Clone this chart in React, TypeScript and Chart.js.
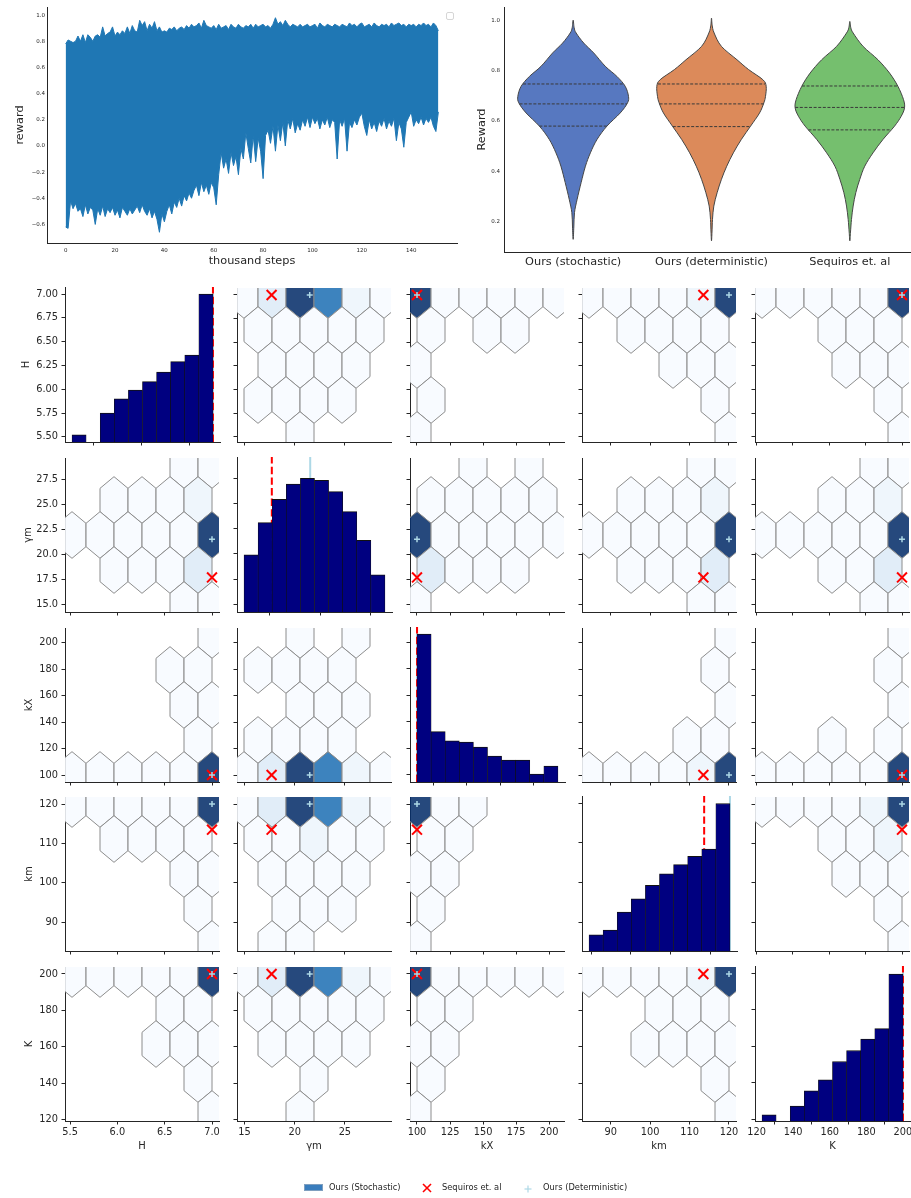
import React, { useEffect, useRef } from "react";
import { Chart, registerables } from "chart.js";

Chart.register(...registerables);

// ---------------- Training curve (reward envelope, every 1k steps) ----------------
const REWARD_STEPS = [0, 1, 2, 3, 4, 5, 6, 7, 8, 9, 10, 11, 12, 13, 14, 15, 16, 17, 18, 19, 20, 21, 22, 23, 24, 25, 26, 27, 28, 29, 30, 31, 32, 33, 34, 35, 36, 37, 38, 39, 40, 41, 42, 43, 44, 45, 46, 47, 48, 49, 50, 51, 52, 53, 54, 55, 56, 57, 58, 59, 60, 61, 62, 63, 64, 65, 66, 67, 68, 69, 70, 71, 72, 73, 74, 75, 76, 77, 78, 79, 80, 81, 82, 83, 84, 85, 86, 87, 88, 89, 90, 91, 92, 93, 94, 95, 96, 97, 98, 99, 100, 101, 102, 103, 104, 105, 106, 107, 108, 109, 110, 111, 112, 113, 114, 115, 116, 117, 118, 119, 120, 121, 122, 123, 124, 125, 126, 127, 128, 129, 130, 131, 132, 133, 134, 135, 136, 137, 138, 139, 140, 141, 142, 143, 144, 145, 146, 147, 148, 149, 150, 151];
const REWARD_UPPER = [0.78, 0.81, 0.80, 0.79, 0.80, 0.84, 0.80, 0.85, 0.79, 0.85, 0.83, 0.80, 0.84, 0.85, 0.83, 0.91, 0.84, 0.86, 0.87, 0.91, 0.84, 0.87, 0.85, 0.88, 0.86, 0.91, 0.86, 0.92, 0.88, 0.87, 0.96, 0.92, 0.95, 0.88, 0.93, 0.90, 0.95, 0.88, 0.91, 0.87, 0.88, 0.87, 0.90, 0.89, 0.91, 0.88, 0.90, 0.91, 0.89, 0.92, 0.90, 0.93, 0.91, 0.92, 0.94, 0.90, 0.96, 0.92, 0.91, 0.90, 0.92, 0.89, 0.93, 0.90, 0.91, 0.92, 0.89, 0.93, 0.91, 0.90, 0.93, 0.91, 0.90, 0.92, 0.91, 0.93, 0.90, 0.93, 0.91, 0.92, 0.93, 0.91, 0.92, 0.90, 0.93, 0.98, 0.93, 0.95, 0.92, 0.96, 0.93, 0.91, 0.93, 0.92, 0.91, 0.93, 0.91, 0.92, 0.93, 0.91, 0.92, 0.93, 0.90, 0.94, 0.92, 0.91, 0.93, 0.92, 0.91, 0.93, 0.92, 0.91, 0.93, 0.92, 0.91, 0.94, 0.92, 0.93, 0.91, 0.93, 0.94, 0.91, 0.92, 0.93, 0.91, 0.94, 0.92, 0.91, 0.93, 0.92, 0.93, 0.91, 0.94, 0.92, 0.93, 0.94, 0.92, 0.93, 0.91, 0.93, 0.92, 0.93, 0.91, 0.93, 0.92, 0.94, 0.92, 0.93, 0.91, 0.94, 0.92, 0.88];
const REWARD_LOWER = [-0.62, -0.63, -0.42, -0.48, -0.44, -0.50, -0.48, -0.54, -0.45, -0.52, -0.47, -0.49, -0.60, -0.48, -0.53, -0.46, -0.54, -0.48, -0.51, -0.47, -0.53, -0.49, -0.55, -0.47, -0.50, -0.53, -0.48, -0.52, -0.49, -0.46, -0.51, -0.45, -0.50, -0.53, -0.48, -0.55, -0.50, -0.56, -0.66, -0.52, -0.58, -0.50, -0.45, -0.52, -0.43, -0.47, -0.40, -0.46, -0.38, -0.42, -0.36, -0.40, -0.34, -0.30, -0.38, -0.28, -0.35, -0.30, -0.37, -0.28, -0.32, -0.45, -0.22, -0.05, -0.17, -0.10, -0.21, -0.05, -0.15, -0.08, -0.22, -0.02, -0.10, 0.10, -0.02, -0.13, 0.08, -0.12, 0.06, -0.04, -0.25, 0.08, 0.12, 0.02, 0.15, -0.04, 0.16, 0.04, 0.18, 0.00, 0.20, 0.13, 0.21, 0.10, 0.17, 0.12, 0.20, 0.15, 0.22, 0.14, 0.22, 0.17, 0.21, 0.13, 0.20, 0.16, 0.22, 0.14, 0.20, 0.18, -0.10, 0.20, 0.15, 0.21, -0.04, 0.18, 0.14, 0.20, 0.16, 0.22, 0.25, 0.15, 0.08, 0.20, 0.13, 0.18, 0.11, 0.19, 0.15, 0.21, 0.13, 0.19, 0.15, 0.21, 0.04, 0.18, 0.13, -0.01, 0.18, 0.22, 0.26, 0.15, 0.20, 0.17, 0.22, 0.16, 0.21, 0.18, 0.22, 0.15, 0.11, 0.26];
const REWARD_X_TICKS = [0, 20, 40, 60, 80, 100, 120, 140];
const REWARD_Y_TICKS = [-0.6, -0.4, -0.2, 0.0, 0.2, 0.4, 0.6, 0.8, 1.0];

// ---------------- Reward violins ----------------
const VIOLIN_LABELS = ["Ours (stochastic)", "Ours (deterministic)", "Sequiros et. al"];
const STOCH_Y = [1.0, 0.97, 0.949, 0.909, 0.87, 0.817, 0.777, 0.738, 0.698, 0.672, 0.632, 0.58, 0.527, 0.474, 0.421, 0.356, 0.29, 0.237, 0.18, 0.131];
const STOCH_DENSITY = [0, 3, 9, 32, 62, 97, 132, 157, 167, 164, 142, 102, 72, 52, 37, 24, 12, 4, 2, 0];
const STOCH_QUARTILES = [0.58, 0.668, 0.747];
const DETER_Y = [1.008, 0.98, 0.949, 0.896, 0.843, 0.804, 0.764, 0.738, 0.698, 0.672, 0.632, 0.58, 0.527, 0.474, 0.421, 0.369, 0.316, 0.263, 0.21, 0.16, 0.125];
const DETER_DENSITY = [0, 2, 8, 30, 77, 112, 155, 165, 163, 158, 145, 118, 90, 66, 46, 30, 17, 7, 3, 1.5, 0];
const DETER_QUARTILES = [0.578, 0.668, 0.747];
const SEQ_Y = [0.995, 0.97, 0.949, 0.896, 0.843, 0.79, 0.738, 0.685, 0.652, 0.619, 0.58, 0.527, 0.474, 0.421, 0.369, 0.316, 0.263, 0.21, 0.16, 0.125];
const SEQ_DENSITY = [0, 3, 10, 40, 85, 120, 145, 162, 165, 155, 135, 100, 70, 45, 30, 18, 10, 5, 2, 0];
const SEQ_QUARTILES = [0.565, 0.654, 0.739];
const VIOLIN_Y_TICKS = [0.2, 0.4, 0.6, 0.8, 1.0];

// ---------------- Pair grid ----------------
const VAR_LABELS = ["H", "γm", "kX", "km", "K"];
const VAR_MIN = [5.52, 14.95, 100, 84.5, 123];
const VAR_MAX = [7.0, 28.9, 206, 120, 200];
const SEQUIROS = [7.0, 17.7, 100, 113.5, 200];
const DETERMINISTIC = [7.0, 21.5, 100, 120, 200];

const H_X_TICKS = [5.5, 6.0, 6.5, 7.0];
const YM_X_TICKS = [15, 20, 25];
const KX_X_TICKS = [100, 125, 150, 175, 200];
const KM_X_TICKS = [90, 100, 110, 120];
const K_X_TICKS = [120, 140, 160, 180, 200];
const H_Y_TICKS = [5.5, 5.75, 6.0, 6.25, 6.5, 6.75, 7.0];
const YM_Y_TICKS = [15, 17.5, 20, 22.5, 25, 27.5];
const KX_Y_TICKS = [100, 120, 140, 160, 180, 200];
const KM_Y_TICKS = [90, 100, 110, 120];
const K_Y_TICKS = [120, 140, 160, 180, 200];

// histogram bar heights (10 equal bins between VAR_MIN and VAR_MAX)
const HIST_H = [7.1, 0, 29, 43.4, 52, 60.5, 70.1, 80.6, 87.3, 148.4];
const HIST_YM = [57.3, 89.7, 113, 128.3, 134, 132, 120.7, 100.7, 72, 37.3];
const HIST_KX = [148.3, 50.6, 41.3, 40, 35, 26, 22, 22, 8, 16];
const HIST_KM = [16.3, 21, 39, 52.3, 66, 77.3, 86.7, 95, 102.3, 148];
const HIST_K = [6.3, 0, 15, 30.3, 41.3, 59.7, 70.7, 82.3, 92.7, 147.3];
const HIST_AXIS_MAX = 155.5;

// hexbin counts, rows from top to bottom (6 / 5 / 6 / 5 / 6 cells), 0 = empty
const HEX_YM_H = [[1, 14, 100, 75, 6, 1], [1, 1, 1, 1, 1], [0, 1, 1, 1, 1, 0], [1, 1, 1, 1, 0], [0, 0, 1, 0, 0, 0]];
const HEX_KX_H = [[100, 1, 1, 1, 1, 1], [1, 0, 1, 1, 0], [1, 0, 0, 0, 0, 0], [1, 0, 0, 0, 0], [1, 0, 0, 0, 0, 0]];
const HEX_KM_H = [[1, 1, 1, 1, 6, 100], [0, 1, 1, 1, 1], [0, 0, 0, 1, 1, 1], [0, 0, 0, 0, 1], [0, 0, 0, 0, 0, 1]];
const HEX_K_H = [[1, 1, 1, 1, 1, 100], [0, 0, 1, 1, 1], [0, 0, 0, 1, 1, 1], [0, 0, 0, 0, 1], [0, 0, 0, 0, 0, 1]];
const HEX_H_YM = [[0, 0, 0, 0, 1, 1], [0, 1, 1, 1, 6], [1, 1, 1, 1, 1, 100], [0, 1, 1, 1, 14], [0, 0, 0, 0, 1, 1]];
const HEX_KX_YM = [[0, 0, 1, 0, 1, 0], [1, 1, 1, 1, 1], [100, 1, 1, 1, 1, 1], [14, 1, 1, 1, 0], [1, 0, 0, 0, 0, 0]];
const HEX_KM_YM = [[0, 0, 0, 0, 1, 1], [0, 1, 1, 1, 6], [1, 1, 1, 1, 1, 100], [0, 1, 1, 1, 14], [0, 0, 0, 0, 1, 1]];
const HEX_K_YM = [[0, 0, 0, 0, 1, 1], [0, 0, 1, 1, 6], [1, 1, 1, 1, 1, 100], [0, 0, 1, 1, 14], [0, 0, 0, 0, 1, 1]];
const HEX_H_KX = [[0, 0, 0, 0, 0, 1], [0, 0, 0, 1, 1], [0, 0, 0, 0, 1, 1], [0, 0, 0, 0, 1], [1, 1, 1, 1, 1, 100]];
const HEX_YM_KX = [[0, 0, 1, 0, 1, 0], [1, 1, 1, 1, 0], [0, 0, 1, 1, 1, 0], [1, 1, 1, 1, 0], [1, 14, 100, 75, 6, 1]];
const HEX_KM_KX = [[0, 0, 0, 0, 0, 1], [0, 0, 0, 0, 1], [0, 0, 0, 0, 0, 1], [0, 0, 0, 1, 1], [1, 1, 1, 1, 6, 100]];
const HEX_K_KX = [[0, 0, 0, 0, 0, 1], [0, 0, 0, 0, 1], [0, 0, 0, 0, 0, 1], [0, 0, 1, 0, 1], [1, 1, 1, 1, 1, 100]];
const HEX_H_KM = [[1, 1, 1, 1, 1, 100], [0, 1, 1, 1, 1], [0, 0, 0, 0, 1, 1], [0, 0, 0, 0, 1], [0, 0, 0, 0, 0, 1]];
const HEX_YM_KM = [[1, 14, 100, 75, 6, 1], [1, 1, 6, 1, 1], [0, 1, 1, 1, 1, 0], [0, 1, 1, 1, 0], [0, 1, 1, 0, 0, 0]];
const HEX_KX_KM = [[100, 1, 1, 0, 0, 0], [1, 1, 0, 0, 0], [1, 1, 0, 0, 0, 0], [1, 0, 0, 0, 0], [1, 0, 0, 0, 0, 0]];
const HEX_K_KM = [[1, 1, 1, 1, 6, 100], [0, 0, 1, 1, 6], [0, 0, 0, 1, 1, 1], [0, 0, 0, 0, 1], [0, 0, 0, 0, 0, 1]];
const HEX_H_K = [[1, 1, 1, 1, 1, 100], [0, 0, 0, 1, 1], [0, 0, 0, 1, 1, 1], [0, 0, 0, 0, 1], [0, 0, 0, 0, 0, 1]];
const HEX_YM_K = [[1, 14, 100, 75, 6, 1], [1, 1, 1, 1, 1], [0, 1, 1, 1, 1, 0], [0, 0, 1, 0, 0], [0, 0, 1, 0, 0, 0]];
const HEX_KX_K = [[100, 1, 1, 1, 1, 1], [1, 1, 0, 0, 0], [1, 1, 0, 0, 0, 0], [1, 0, 0, 0, 0], [1, 0, 0, 0, 0, 0]];
const HEX_KM_K = [[1, 1, 1, 1, 6, 100], [0, 0, 1, 1, 1], [0, 0, 1, 1, 1, 1], [0, 0, 0, 0, 1], [0, 0, 0, 0, 0, 1]];

// ---------------- styling / layout ----------------
const FONT = "'DejaVu Sans', sans-serif";
const INK = "#262626";
const REWARD_BLUE = "#1f77b4";
const VIOLIN_FILLS = ["#5778c0", "#dc8a5a", "#75bf6e"];
const VIOLIN_EDGE = "#454545";
const NAVY = "#000080";
const SEQ_RED = "#ff0000";
const DET_BLUE = "#add8e6";
const HEX_EDGE = "#8c8c8c";
const HEX_GRID_X = 5;
const HEX_GRID_Y = 2;
const VIOLIN_HALF = 0.4;

const PANEL_LEFT = [65, 237, 410, 582, 755];
const PANEL_TOP = [287, 457, 627, 796, 966];
const PANEL_W = 155;
const PANEL_H = 155;
const ROW_LABEL_X = [26, 28, 29, 29, 29];

const X_TICKS = [H_X_TICKS, YM_X_TICKS, KX_X_TICKS, KM_X_TICKS, K_X_TICKS];
const Y_TICKS = [H_Y_TICKS, YM_Y_TICKS, KX_Y_TICKS, KM_Y_TICKS, K_Y_TICKS];
const X_DEC = [1, 0, 0, 0, 0];
const Y_DEC = [2, 1, 0, 0, 0];
const HISTS = [HIST_H, HIST_YM, HIST_KX, HIST_KM, HIST_K];
const HEX_GRID: any[][] = [
  [null, HEX_YM_H, HEX_KX_H, HEX_KM_H, HEX_K_H],
  [HEX_H_YM, null, HEX_KX_YM, HEX_KM_YM, HEX_K_YM],
  [HEX_H_KX, HEX_YM_KX, null, HEX_KM_KX, HEX_K_KX],
  [HEX_H_KM, HEX_YM_KM, HEX_KX_KM, null, HEX_K_KM],
  [HEX_H_K, HEX_YM_K, HEX_KX_K, HEX_KM_K, null],
];

const BLUES = [
  [247, 251, 255], [222, 235, 247], [198, 219, 239], [158, 202, 225], [107, 174, 214],
  [66, 146, 198], [33, 113, 181], [8, 81, 156], [8, 48, 107],
];
function blues(t: number) {
  const tt = Math.max(0, Math.min(1, t));
  const p = tt * (BLUES.length - 1);
  const i = Math.min(BLUES.length - 2, Math.floor(p));
  const f = p - i;
  const c = BLUES[i].map((v, k) => Math.round(v + (BLUES[i + 1][k] - v) * f));
  return `rgba(${c[0]},${c[1]},${c[2]},0.88)`;
}

function axisRange(i: number) {
  const pad = (VAR_MAX[i] - VAR_MIN[i]) * 0.05;
  return [VAR_MIN[i] - pad, VAR_MAX[i] + pad];
}

function linAxis(o: any) {
  return {
    type: "linear",
    display: true,
    position: o.horizontal ? "bottom" : "left",
    min: o.min,
    max: o.max,
    offset: false,
    afterBuildTicks: (s: any) => {
      s.ticks = o.ticks.map((v: number) => ({ value: v }));
    },
    afterFit: (s: any) => {
      if (o.horizontal) s.height = o.size;
      else s.width = o.size;
      s.paddingLeft = 0;
      s.paddingRight = 0;
      s.paddingTop = 0;
      s.paddingBottom = 0;
    },
    ticks: {
      display: !!o.labels,
      autoSkip: false,
      maxRotation: 0,
      minRotation: 0,
      padding: o.pad,
      color: INK,
      font: { family: FONT, size: o.fontSize },
      callback: (v: any) => o.fmt(Number(v)),
    },
    grid: {
      display: true,
      drawOnChartArea: false,
      drawTicks: o.tickLen > 0,
      tickLength: o.tickLen,
      color: INK,
      lineWidth: 1,
    },
    border: { display: true, color: INK, width: 1 },
    title: o.title
      ? { display: true, text: o.title, color: INK, font: { family: FONT, size: o.titleSize }, padding: { top: 0, bottom: 0 } }
      : { display: false },
  };
}

function baseOptions(m: any, scales: any) {
  return {
    animation: false,
    responsive: false,
    maintainAspectRatio: false,
    events: [],
    layout: { padding: { left: 0, top: m.t, right: m.r, bottom: 0 } },
    plugins: { legend: { display: false }, tooltip: { enabled: false } },
    scales,
  };
}

const minusFmt = (v: number, d: number) => (v < -1e-9 ? "−" + Math.abs(v).toFixed(d) : Math.abs(v).toFixed(d));

// ---------------- reward curve ----------------
const REWARD_M = { l: 34, t: 7, r: 8, b: 25 };
const REWARD_AREA = { left: 47, top: 7, w: 410, h: 236 };

function rewardConfig() {
  const xPad = (REWARD_STEPS[REWARD_STEPS.length - 1] - REWARD_STEPS[0]) * 0.05;
  const lo = Math.min(...REWARD_LOWER);
  const hi = Math.max(...REWARD_UPPER);
  const yPad = (hi - lo) * 0.05;
  return {
    type: "line",
    data: {
      datasets: [
        {
          data: REWARD_STEPS.map((s, i) => ({ x: s, y: REWARD_UPPER[i] })),
          borderColor: REWARD_BLUE,
          backgroundColor: REWARD_BLUE,
          borderWidth: 1,
          pointRadius: 0,
          fill: "+1",
          tension: 0,
        },
        {
          data: REWARD_STEPS.map((s, i) => ({ x: s, y: REWARD_LOWER[i] })),
          borderColor: REWARD_BLUE,
          backgroundColor: REWARD_BLUE,
          borderWidth: 1,
          pointRadius: 0,
          fill: false,
          tension: 0,
        },
      ],
    },
    options: baseOptions(REWARD_M, {
      x: linAxis({
        horizontal: true, min: REWARD_STEPS[0] - xPad, max: REWARD_STEPS[REWARD_STEPS.length - 1] + xPad,
        ticks: REWARD_X_TICKS, fmt: (v: number) => v.toFixed(0), labels: true, size: REWARD_M.b,
        pad: 4, fontSize: 5.5, tickLen: 0, title: "thousand steps", titleSize: 11.3,
      }),
      y: linAxis({
        horizontal: false, min: lo - yPad, max: hi + yPad, ticks: REWARD_Y_TICKS,
        fmt: (v: number) => minusFmt(v, 1), labels: true, size: REWARD_M.l,
        pad: 2, fontSize: 5.5, tickLen: 0, title: "reward", titleSize: 11.3,
      }),
    }),
  };
}

// ---------------- violins ----------------
const VIOLINS = [
  { y: STOCH_Y, d: STOCH_DENSITY, q: STOCH_QUARTILES },
  { y: DETER_Y, d: DETER_DENSITY, q: DETER_QUARTILES },
  { y: SEQ_Y, d: SEQ_DENSITY, q: SEQ_QUARTILES },
];
const DENS_MAX = Math.max(...STOCH_DENSITY, ...DETER_DENSITY, ...SEQ_DENSITY);
const VIOLIN_M = { l: 29, t: 7, r: 8, b: 22 };
const VIOLIN_AREA = { left: 504, top: 7, w: 415, h: 245 };

function densityAt(ys: number[], ds: number[], q: number) {
  for (let i = 0; i < ys.length - 1; i++) {
    const a = ys[i];
    const b = ys[i + 1];
    if (q <= a && q >= b) {
      const f = (a - q) / (a - b);
      return ds[i] + (ds[i + 1] - ds[i]) * f;
    }
  }
  return 0;
}

function smoothClosedPath(ctx: CanvasRenderingContext2D, pts: number[][]) {
  const n = pts.length;
  ctx.moveTo(pts[0][0], pts[0][1]);
  for (let i = 0; i < n; i++) {
    const p0 = pts[(i - 1 + n) % n];
    const p1 = pts[i];
    const p2 = pts[(i + 1) % n];
    const p3 = pts[(i + 2) % n];
    ctx.bezierCurveTo(
      p1[0] + (p2[0] - p0[0]) / 6, p1[1] + (p2[1] - p0[1]) / 6,
      p2[0] - (p3[0] - p1[0]) / 6, p2[1] - (p3[1] - p1[1]) / 6,
      p2[0], p2[1]
    );
  }
  ctx.closePath();
}

const violinPlugin = {
  id: "violinBodies",
  beforeDatasetsDraw(chart: any) {
    const { ctx, scales } = chart;
    const sx = scales.x;
    const sy = scales.y;
    VIOLINS.forEach((v, i) => {
      const n = v.y.length;
      const pts: number[][] = [];
      for (let j = n - 1; j >= 0; j--) {
        pts.push([sx.getPixelForValue(i + (v.d[j] / DENS_MAX) * VIOLIN_HALF), sy.getPixelForValue(v.y[j])]);
      }
      for (let j = 1; j < n - 1; j++) {
        pts.push([sx.getPixelForValue(i - (v.d[j] / DENS_MAX) * VIOLIN_HALF), sy.getPixelForValue(v.y[j])]);
      }
      ctx.save();
      ctx.beginPath();
      smoothClosedPath(ctx, pts);
      ctx.fillStyle = VIOLIN_FILLS[i];
      ctx.fill();
      ctx.strokeStyle = VIOLIN_EDGE;
      ctx.lineWidth = 1;
      ctx.stroke();
      ctx.restore();
    });
  },
};

function violinConfig() {
  const allY = [...STOCH_Y, ...DETER_Y, ...SEQ_Y];
  const lo = Math.min(...allY);
  const hi = Math.max(...allY);
  const pad = (hi - lo) * 0.05;
  const datasets: any[] = [];
  VIOLINS.forEach((v, i) => {
    v.q.forEach((q) => {
      const w = (densityAt(v.y, v.d, q) / DENS_MAX) * VIOLIN_HALF;
      datasets.push({
        data: [{ x: i - w, y: q }, { x: i + w, y: q }],
        borderColor: "#3a3a3a",
        borderWidth: 1,
        borderDash: [3, 1.6],
        pointRadius: 0,
        fill: false,
      });
    });
  });
  return {
    type: "line",
    data: { datasets },
    options: baseOptions(VIOLIN_M, {
      x: linAxis({
        horizontal: true, min: -0.5, max: VIOLIN_LABELS.length - 0.5, ticks: [0, 1, 2],
        fmt: (v: number) => VIOLIN_LABELS[Math.round(v)] || "", labels: true, size: VIOLIN_M.b,
        pad: 3, fontSize: 11.3, tickLen: 0,
      }),
      y: linAxis({
        horizontal: false, min: lo - pad, max: hi + pad, ticks: VIOLIN_Y_TICKS,
        fmt: (v: number) => v.toFixed(1), labels: true, size: VIOLIN_M.l,
        pad: 4, fontSize: 5.5, tickLen: 0, title: "Reward", titleSize: 11.3,
      }),
    }),
    plugins: [violinPlugin],
  };
}

// ---------------- pair grid ----------------
function pairMargins(r: number, c: number) {
  return {
    l: c === 0 ? PANEL_LEFT[0] - (ROW_LABEL_X[r] - 6) : 12,
    t: 8,
    r: 8,
    b: r === 4 ? 31 : 12,
  };
}

function hexPlugin(counts: number[][], xi: number, yi: number) {
  return {
    id: "hexbin",
    beforeDatasetsDraw(chart: any) {
      const { ctx, chartArea: a, scales } = chart;
      const sxScale = scales.x;
      const syScale = scales.y;
      const sx = (VAR_MAX[xi] - VAR_MIN[xi]) / HEX_GRID_X;
      const sy = (VAR_MAX[yi] - VAR_MIN[yi]) / HEX_GRID_Y;
      const all = counts.flat().filter((v) => v > 0);
      const cMin = Math.min(...all);
      const cMax = Math.max(...all);
      const verts = [[0.5, -1 / 6], [0.5, 1 / 6], [0, 1 / 3], [-0.5, 1 / 6], [-0.5, -1 / 6], [0, -1 / 3]];
      ctx.save();
      ctx.beginPath();
      ctx.rect(a.left, a.top, a.right - a.left, a.bottom - a.top);
      ctx.clip();
      const nRows = counts.length;
      counts.forEach((row, r) => {
        const k = nRows - 1 - r;
        const cy = VAR_MIN[yi] + (k * sy) / 2;
        const shift = k % 2 === 1 ? 0.5 : 0;
        row.forEach((cnt, i) => {
          if (!cnt) return;
          const cx = VAR_MIN[xi] + (i + shift) * sx;
          ctx.beginPath();
          verts.forEach(([dx, dy], j) => {
            const px = sxScale.getPixelForValue(cx + dx * sx);
            const py = syScale.getPixelForValue(cy + dy * sy);
            if (j === 0) ctx.moveTo(px, py);
            else ctx.lineTo(px, py);
          });
          ctx.closePath();
          ctx.fillStyle = blues(cMax > cMin ? (cnt - cMin) / (cMax - cMin) : 0);
          ctx.fill();
          ctx.strokeStyle = HEX_EDGE;
          ctx.lineWidth = 1;
          ctx.stroke();
        });
      });
      ctx.restore();
    },
  };
}

function pairConfig(r: number, c: number) {
  const m = pairMargins(r, c);
  const [xmin, xmax] = axisRange(c);
  const [ymin, ymax] = axisRange(r);
  const xAxis = linAxis({
    horizontal: true, min: xmin, max: xmax, ticks: X_TICKS[c],
    fmt: (v: number) => v.toFixed(X_DEC[c]), labels: r === 4, size: m.b,
    pad: 2.5, fontSize: 9.8, tickLen: 3.5, title: r === 4 ? VAR_LABELS[c] : undefined, titleSize: 10,
  });
  const yAxis = linAxis({
    horizontal: false, min: ymin, max: ymax, ticks: Y_TICKS[r],
    fmt: (v: number) => v.toFixed(Y_DEC[r]), labels: c === 0, size: m.l,
    pad: 3.5, fontSize: 9.8, tickLen: 3.5, title: c === 0 ? VAR_LABELS[r] : undefined, titleSize: 10,
  });

  if (r === c) {
    const hist = HISTS[r];
    const binW = (VAR_MAX[r] - VAR_MIN[r]) / hist.length;
    return {
      type: "bar",
      data: {
        datasets: [
          {
            type: "line",
            data: [{ x: DETERMINISTIC[r], y: ymin }, { x: DETERMINISTIC[r], y: ymax }],
            yAxisID: "y",
            borderColor: DET_BLUE,
            borderWidth: 2,
            pointRadius: 0,
            fill: false,
            order: 3,
          },
          {
            type: "line",
            data: [{ x: SEQUIROS[r], y: ymin }, { x: SEQUIROS[r], y: ymax }],
            yAxisID: "y",
            borderColor: SEQ_RED,
            borderWidth: 2,
            borderDash: [7.4, 3.2],
            pointRadius: 0,
            fill: false,
            order: 2,
          },
          {
            type: "bar",
            data: hist.map((h, i) => ({ x: VAR_MIN[r] + (i + 0.5) * binW, y: h })),
            yAxisID: "yc",
            backgroundColor: NAVY,
            borderColor: "#111111",
            borderWidth: { top: 1, left: 0.6, right: 0.6, bottom: 0 },
            borderSkipped: false,
            barPercentage: 1,
            categoryPercentage: 1,
            order: 1,
          },
        ],
      },
      options: baseOptions(m, {
        x: xAxis,
        y: yAxis,
        yc: { type: "linear", display: false, min: 0, max: HIST_AXIS_MAX, position: "right" },
      }),
    };
  }

  return {
    type: "scatter",
    data: {
      datasets: [
        {
          data: [{ x: SEQUIROS[c], y: SEQUIROS[r] }],
          pointStyle: "crossRot",
          pointRadius: 7,
          pointBorderColor: SEQ_RED,
          pointBackgroundColor: SEQ_RED,
          pointBorderWidth: 2,
          clip: false,
          order: 2,
        },
        {
          data: [{ x: DETERMINISTIC[c], y: DETERMINISTIC[r] }],
          pointStyle: "cross",
          pointRadius: 3,
          pointBorderColor: DET_BLUE,
          pointBackgroundColor: DET_BLUE,
          pointBorderWidth: 1.5,
          clip: false,
          order: 1,
        },
      ],
    },
    options: baseOptions(m, { x: xAxis, y: yAxis }),
    plugins: [hexPlugin(HEX_GRID[r][c], c, r)],
  };
}

// ---------------- components ----------------
function ChartCanvas(props: { x: number; y: number; w: number; h: number; build: () => any }) {
  const ref = useRef<HTMLCanvasElement | null>(null);
  useEffect(() => {
    if (!ref.current) return;
    const chart = new Chart(ref.current, props.build());
    return () => chart.destroy();
  }, []);
  return (
    <canvas
      ref={ref}
      width={props.w}
      height={props.h}
      style={{ position: "absolute", left: props.x, top: props.y, width: props.w, height: props.h }}
    />
  );
}

function LegendText(props: { x: number; text: string }) {
  return (
    <div
      style={{
        position: "absolute", left: props.x, top: 1182, height: 11, lineHeight: "11px",
        fontSize: 8.3, fontFamily: FONT, color: INK, whiteSpace: "nowrap",
      }}
    >
      {props.text}
    </div>
  );
}

function BottomLegend() {
  return (
    <>
      <div style={{ position: "absolute", left: 304, top: 1184, width: 17, height: 5, background: "#3a7dbd", border: "0.6px solid #7f9fbf" }} />
      <LegendText x={329} text="Ours (Stochastic)" />
      <svg style={{ position: "absolute", left: 422, top: 1183 }} width={10} height={10}>
        <line x1={1} y1={1} x2={9} y2={9} stroke={SEQ_RED} strokeWidth={1.6} />
        <line x1={9} y1={1} x2={1} y2={9} stroke={SEQ_RED} strokeWidth={1.6} />
      </svg>
      <LegendText x={442} text="Sequiros et. al" />
      <svg style={{ position: "absolute", left: 524, top: 1184.5 }} width={8} height={8}>
        <line x1={4} y1={0.5} x2={4} y2={7.5} stroke={DET_BLUE} strokeWidth={1.2} />
        <line x1={0.5} y1={4} x2={7.5} y2={4} stroke={DET_BLUE} strokeWidth={1.2} />
      </svg>
      <LegendText x={543} text="Ours (Deterministic)" />
    </>
  );
}

export default function App() {
  const panels: any[] = [];
  for (let r = 0; r < 5; r++) {
    for (let c = 0; c < 5; c++) {
      const m = pairMargins(r, c);
      panels.push(
        <ChartCanvas
          key={`p${r}${c}`}
          x={PANEL_LEFT[c] - m.l}
          y={PANEL_TOP[r] - m.t}
          w={m.l + PANEL_W + m.r}
          h={m.t + PANEL_H + m.b}
          build={() => pairConfig(r, c)}
        />
      );
    }
  }
  return (
    <div
      style={{
        position: "absolute", left: 0, top: 0, width: 911, height: 1198,
        overflow: "hidden", background: "#ffffff", fontFamily: FONT,
      }}
    >
      <ChartCanvas
        x={REWARD_AREA.left - REWARD_M.l}
        y={REWARD_AREA.top - REWARD_M.t}
        w={REWARD_M.l + REWARD_AREA.w + REWARD_M.r}
        h={REWARD_M.t + REWARD_AREA.h + REWARD_M.b}
        build={rewardConfig}
      />
      <div
        style={{
          position: "absolute", left: 446, top: 12, width: 6, height: 6,
          border: "1px solid #d6d6d6", borderRadius: 2, background: "#fff",
        }}
      />
      <ChartCanvas
        x={VIOLIN_AREA.left - VIOLIN_M.l}
        y={VIOLIN_AREA.top - VIOLIN_M.t}
        w={VIOLIN_M.l + VIOLIN_AREA.w + VIOLIN_M.r}
        h={VIOLIN_M.t + VIOLIN_AREA.h + VIOLIN_M.b}
        build={violinConfig}
      />
      {panels}
      <BottomLegend />
    </div>
  );
}
